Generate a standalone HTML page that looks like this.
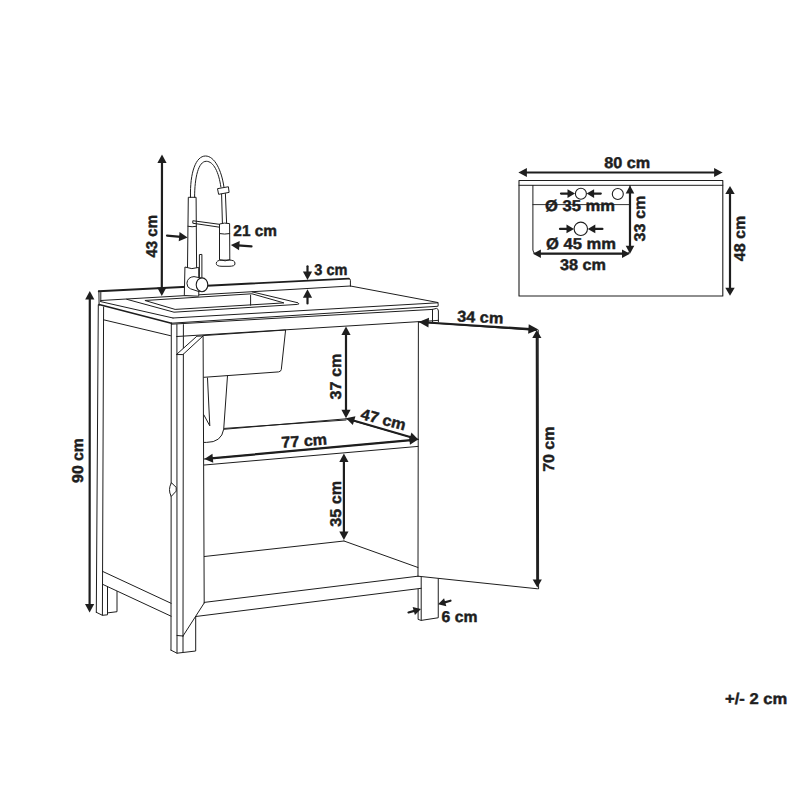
<!DOCTYPE html>
<html><head><meta charset="utf-8"><style>
html,body{margin:0;padding:0;background:#fff;}
svg{display:block;}
text{font-family:"Liberation Sans",sans-serif;font-weight:bold;fill:#1e1e1e;stroke:#1e1e1e;stroke-width:0.45px;text-rendering:geometricPrecision;}
</style></head><body>
<svg width="800" height="800" viewBox="0 0 800 800">
<rect width="800" height="800" fill="#fff"/>
<g stroke="#1e1e1e" fill="none" stroke-linecap="round" stroke-linejoin="round">
<line x1="98.75" y1="291.2" x2="348.8" y2="278.6" stroke-width="1.9"/>
<line x1="98.9" y1="291.0" x2="99.1" y2="305.5" stroke-width="1.0"/>
<line x1="100.8" y1="292.5" x2="100.8" y2="301.5" stroke-width="1.0"/>
<path d="M348.6,278.6 Q350.4,278.5 350.4,280.3 L350.4,286" stroke-width="1.0" fill="none"/>
<line x1="100.8" y1="300.5" x2="350.4" y2="286.0" stroke-width="1.0"/>
<line x1="350.4" y1="286.0" x2="437.8" y2="302.5" stroke-width="1.0"/>
<path d="M437.8,302.5 Q438.6,304 438.1,306" stroke-width="1.0" fill="none"/>
<line x1="100.6" y1="301.6" x2="173.0" y2="318.0" stroke-width="1.0"/>
<line x1="173.0" y1="318.0" x2="437.8" y2="302.8" stroke-width="1.0"/>
<line x1="99.0" y1="304.5" x2="171.4" y2="323.2" stroke-width="1.7"/>
<line x1="171.4" y1="323.2" x2="437.5" y2="306.3" stroke-width="1.0"/>
<path d="M126.75,299.3 L174,312.2 L297.5,304.4 Q300.2,304 298,302.8 L252.2,291.9" stroke-width="1.0" fill="none"/>
<polygon points="145.3,300.6 175.1,309.4 283.9,302.9 252.3,293.9" stroke-width="1.0" fill="none"/>
<line x1="250.6" y1="295.2" x2="250.6" y2="305.2" stroke-width="1.0"/>
<line x1="103.6" y1="319.8" x2="170.5" y2="335.7" stroke-width="1.0"/>
<line x1="171.4" y1="324.2" x2="432.5" y2="309.4" stroke-width="1.0"/>
<path d="M432.5,309.4 L436.5,308.4 Q438.4,308.8 438.4,311 L438.4,321.9" stroke-width="1.0" fill="none"/>
<line x1="432.5" y1="309.4" x2="432.5" y2="321.9" stroke-width="1.0"/>
<line x1="176.9" y1="336.5" x2="432.5" y2="320.8" stroke-width="1.0"/>
<line x1="432.5" y1="320.8" x2="438.4" y2="320.3" stroke-width="1.0"/>
<line x1="98.3" y1="305" x2="96.3" y2="612.3" stroke-width="1.0"/>
<line x1="103.6" y1="307" x2="102.4" y2="615.2" stroke-width="1.0"/>
<line x1="102.4" y1="571.3" x2="171.1" y2="603.3" stroke-width="1.0"/>
<line x1="102.4" y1="584.2" x2="171.1" y2="616.2" stroke-width="1.0"/>
<polyline points="96.3,612.3 102.4,615.3 107.5,614.8 107.5,612.9 117.0,611.7 117.0,591.5" stroke-width="1.0" fill="none"/>
<line x1="107.5" y1="586.8" x2="107.5" y2="612.9" stroke-width="1.0"/>
<line x1="171.3" y1="323.2" x2="171.0" y2="650.2" stroke-width="1.0"/>
<line x1="176.9" y1="336.5" x2="177.0" y2="653.2" stroke-width="1.0"/>
<line x1="183.4" y1="324.6" x2="183.0" y2="636.0" stroke-width="1.0"/>
<line x1="176.9" y1="324.5" x2="176.9" y2="336.5" stroke-width="1.0"/>
<path d="M176.7,354.3 L196.9,336.2 L203.0,336.0 L183.2,354.3 Z" stroke-width="1.0" fill="#fff"/>
<line x1="203.1" y1="336.5" x2="204.2" y2="603.0" stroke-width="1.0"/>
<line x1="204.2" y1="603.0" x2="183.0" y2="636.0" stroke-width="1.0"/>
<path d="M171.25,483.1 Q167.6,489.7 171.25,496.4 L176.2,491.1 L176.2,487.75 Z" stroke-width="1.0" fill="#fff"/>
<polyline points="171.0,650.2 177.0,653.2 195.7,651.0 195.7,616.5" stroke-width="1.0" fill="none"/>
<line x1="177.0" y1="635.5" x2="183.0" y2="636.0" stroke-width="1.0"/>
<line x1="183.0" y1="636.0" x2="183.0" y2="651.7" stroke-width="1.0"/>
<path d="M203.1,335.6 L285.6,330 L281.3,369.5 Q280.9,371.6 278.6,371.9 L203.8,377.3" stroke-width="1.0" fill="none"/>
<path d="M207.5,378 L209.8,425.8 L203.8,414.8" stroke-width="1.0" fill="none"/>
<path d="M227.5,375.9 L223.7,429.3 Q221.5,442.4 206.5,442.4 L204.4,442.4" stroke-width="1.0" fill="none"/>
<line x1="224.5" y1="428.4" x2="346.0" y2="420.0" stroke-width="1.0"/>
<line x1="223.7" y1="429.3" x2="346" y2="418.8" stroke-width="1.0"/>
<line x1="346.0" y1="418.8" x2="418.3" y2="439.4" stroke-width="1.0"/>
<line x1="204.4" y1="465.0" x2="418.0" y2="446.4" stroke-width="1.0"/>
<line x1="204.4" y1="459.0" x2="418.0" y2="439.5" stroke-width="1.0"/>
<line x1="204.4" y1="556.5" x2="344.0" y2="541.0" stroke-width="1.0"/>
<line x1="344.0" y1="541.0" x2="418.0" y2="567.5" stroke-width="1.0"/>
<line x1="204.2" y1="602.4" x2="418.0" y2="576.2" stroke-width="1.0"/>
<line x1="195.7" y1="616.5" x2="421.2" y2="588.3" stroke-width="1.0"/>
<line x1="418.4" y1="322.0" x2="418.0" y2="576.2" stroke-width="1.0"/>
<line x1="418.4" y1="322.0" x2="536.3" y2="330.5" stroke-width="1.0"/>
<line x1="538.2" y1="330.2" x2="538.6" y2="588.8" stroke-width="1.0"/>
<line x1="418.0" y1="576.2" x2="537.5" y2="588.8" stroke-width="1.0"/>
<polyline points="421.2,577.1 421.2,620.4 438.25,617.75 438.25,578.8" stroke-width="1.0" fill="none"/>
<polyline points="418.1,589.3 418.1,619.4 421.2,620.4" stroke-width="1.0" fill="none"/>
<path d="M190.5,197.3 C189.8,172 196,156 205.5,156 C214.5,156 221.5,170 223.9,186.8" stroke-width="1.0" fill="none"/>
<path d="M194.6,197.3 C194.6,177 198.5,161.3 206.3,161.3 C213.5,161.3 218.8,172 220.9,187.1" stroke-width="1.0" fill="none"/>
<polygon points="217.9,188.6 228.4,186.75 229.1,192.4 219.0,194.25" stroke-width="1.0" fill="none"/>
<line x1="221.6" y1="194.2" x2="222.4" y2="223.0" stroke-width="1.0"/>
<line x1="225.4" y1="193.6" x2="226.6" y2="223.0" stroke-width="1.0"/>
<polyline points="187.5,267.5 188.3,197.3 196.1,197.3 196.6,267.5" stroke-width="1.0" fill="none"/>
<path d="M188,226.3 Q192,227.3 196.4,226.3" stroke-width="1.0" fill="none"/>
<polygon points="193.2,220.8 219.5,224.3 219.5,227.2 193.2,223.3" stroke-width="1.0" fill="none"/>
<path d="M219.5,259.5 L219.5,224 Q224.5,222.4 229.6,223.6 L229.8,259.5" stroke-width="1.0" fill="none"/>
<path d="M219.5,233.6 Q224.6,234.6 229.7,233.6" stroke-width="1.0" fill="none"/>
<path d="M216.3,263 Q216.3,260.2 222,260.1 L229.5,260.1 Q234.9,260.2 234.9,263 L234.9,264 Q234.9,266.3 229,266.3 L222,266.3 Q216.3,266.3 216.3,264 Z" stroke-width="1.0" fill="#fff"/>
<path d="M219.7,259.8 Q225.6,262 229.8,259.8" stroke-width="1.0" fill="none"/>
<path d="M185.3,267.2 Q191.8,270 198.75,267.4 L198.75,296.2 L184.7,295.6 Z" stroke-width="1.0" fill="#fff"/>
<polyline points="199.4,277.5 199.4,254.6 201.9,254.4 201.9,277.5" stroke-width="1.0" fill="none"/>
<path d="M201,278 L194,276.6 Q187.6,277 186.9,283.2 Q186.9,287.6 190.5,288.8 L199,291.6 Z" stroke-width="1.0" fill="#fff"/>
<ellipse cx="202.0" cy="284.8" rx="5.8" ry="6.9" fill="#fff" stroke-width="1.1"/>
<line x1="161.99" y1="161.20" x2="161.81" y2="289.20" stroke-width="2.2"/>
<polygon points="161.80,296.00 157.21,287.49 166.41,287.51" fill="#1e1e1e" stroke="none"/>
<polygon points="162.00,154.40 166.59,162.91 157.39,162.89" fill="#1e1e1e" stroke="none"/>
<line x1="167.00" y1="235.60" x2="180.83" y2="236.81" stroke-width="2.2"/>
<polygon points="187.60,237.40 178.73,241.24 179.53,232.08" fill="#1e1e1e" stroke="none"/>
<line x1="251.50" y1="246.40" x2="237.68" y2="245.46" stroke-width="2.2"/>
<polygon points="230.90,245.00 239.69,240.99 239.07,250.17" fill="#1e1e1e" stroke="none"/>
<line x1="307.50" y1="266.30" x2="307.50" y2="273.20" stroke-width="2.2"/>
<polygon points="307.50,280.00 302.90,271.50 312.10,271.50" fill="#1e1e1e" stroke="none"/>
<line x1="307.50" y1="303.50" x2="307.50" y2="296.10" stroke-width="2.2"/>
<polygon points="307.50,289.30 312.10,297.80 302.90,297.80" fill="#1e1e1e" stroke="none"/>
<line x1="89.80" y1="297.80" x2="89.60" y2="605.70" stroke-width="2.2"/>
<polygon points="89.60,612.50 85.01,604.00 94.21,604.00" fill="#1e1e1e" stroke="none"/>
<polygon points="89.80,291.00 94.39,299.50 85.19,299.50" fill="#1e1e1e" stroke="none"/>
<line x1="426.73" y1="322.51" x2="530.42" y2="329.09" stroke-width="2.2"/>
<polygon points="538.40,329.60 528.12,333.76 528.72,324.18" fill="#1e1e1e" stroke="none"/>
<polygon points="418.75,322.00 429.03,317.84 428.43,327.42" fill="#1e1e1e" stroke="none"/>
<line x1="536.81" y1="336.40" x2="537.29" y2="581.10" stroke-width="2.2"/>
<polygon points="537.30,587.50 532.68,579.51 541.88,579.49" fill="#1e1e1e" stroke="none"/>
<polygon points="536.80,330.00 541.42,337.99 532.22,338.01" fill="#1e1e1e" stroke="none"/>
<line x1="346.00" y1="333.30" x2="346.00" y2="411.50" stroke-width="2.2"/>
<polygon points="346.00,418.30 341.40,409.80 350.60,409.80" fill="#1e1e1e" stroke="none"/>
<polygon points="346.00,326.50 350.60,335.00 341.40,335.00" fill="#1e1e1e" stroke="none"/>
<line x1="352.53" y1="420.21" x2="411.77" y2="437.49" stroke-width="2.2"/>
<polygon points="418.30,439.40 408.85,441.43 411.43,432.60" fill="#1e1e1e" stroke="none"/>
<polygon points="346.00,418.30 355.45,416.27 352.87,425.10" fill="#1e1e1e" stroke="none"/>
<line x1="211.17" y1="458.38" x2="411.23" y2="440.12" stroke-width="2.2"/>
<polygon points="418.00,439.50 409.95,444.85 409.12,435.69" fill="#1e1e1e" stroke="none"/>
<polygon points="204.40,459.00 212.45,453.65 213.28,462.81" fill="#1e1e1e" stroke="none"/>
<line x1="343.90" y1="460.40" x2="343.90" y2="533.20" stroke-width="2.2"/>
<polygon points="343.90,540.00 339.30,531.50 348.50,531.50" fill="#1e1e1e" stroke="none"/>
<polygon points="343.90,453.60 348.50,462.10 339.30,462.10" fill="#1e1e1e" stroke="none"/>
<line x1="408.50" y1="612.50" x2="415.22" y2="610.62" stroke-width="2.2"/>
<polygon points="421.00,609.00 414.91,615.07 412.65,606.98" fill="#1e1e1e" stroke="none"/>
<line x1="450.50" y1="600.70" x2="443.78" y2="602.58" stroke-width="2.2"/>
<polygon points="438.00,604.20 444.09,598.13 446.35,606.22" fill="#1e1e1e" stroke="none"/>
<rect x="519" y="180.5" width="203.8" height="115.5" fill="none" stroke-width="1.1"/>
<line x1="519" y1="185.3" x2="722.8" y2="185.3" stroke-width="1.0"/>
<path d="M532.9,185.4 L532.9,250 Q532.9,253.7 536.5,253.7 L626,253.7 Q630,253.7 630,249.7 L630,185.4" stroke-width="1.0" fill="none"/>
<line x1="532.9" y1="204.6" x2="630" y2="204.6" stroke-width="0.9"/>
<circle cx="580.9" cy="193.7" r="5.5" fill="#fff" stroke-width="1.1"/>
<circle cx="617.8" cy="194.0" r="5.5" fill="#fff" stroke-width="1.1"/>
<circle cx="580.8" cy="228.8" r="6.7" fill="#fff" stroke-width="1.1"/>
<line x1="525.20" y1="172.50" x2="715.80" y2="172.50" stroke-width="2.2"/>
<polygon points="722.60,172.50 714.10,176.90 714.10,168.10" fill="#1e1e1e" stroke="none"/>
<polygon points="518.40,172.50 526.90,168.10 526.90,176.90" fill="#1e1e1e" stroke="none"/>
<line x1="730.00" y1="192.40" x2="730.00" y2="289.40" stroke-width="2.2"/>
<polygon points="730.00,295.80 725.30,287.80 734.70,287.80" fill="#1e1e1e" stroke="none"/>
<polygon points="730.00,186.00 734.70,194.00 725.30,194.00" fill="#1e1e1e" stroke="none"/>
<line x1="630.00" y1="192.00" x2="630.00" y2="247.30" stroke-width="2.2"/>
<polygon points="630.00,253.70 625.70,245.70 634.30,245.70" fill="#1e1e1e" stroke="none"/>
<polygon points="630.00,185.60 634.30,193.60 625.70,193.60" fill="#1e1e1e" stroke="none"/>
<line x1="539.30" y1="253.70" x2="623.60" y2="253.70" stroke-width="2.2"/>
<polygon points="630.00,253.70 622.00,258.00 622.00,249.40" fill="#1e1e1e" stroke="none"/>
<polygon points="532.90,253.70 540.90,249.40 540.90,258.00" fill="#1e1e1e" stroke="none"/>
<line x1="561.00" y1="193.60" x2="569.00" y2="193.60" stroke-width="2.2"/>
<polygon points="575.00,193.60 567.50,197.90 567.50,189.30" fill="#1e1e1e" stroke="none"/>
<line x1="600.80" y1="193.60" x2="592.60" y2="193.60" stroke-width="2.2"/>
<polygon points="586.60,193.60 594.10,189.30 594.10,197.90" fill="#1e1e1e" stroke="none"/>
<line x1="560.00" y1="228.90" x2="568.00" y2="228.90" stroke-width="2.2"/>
<polygon points="574.00,228.90 566.50,233.20 566.50,224.60" fill="#1e1e1e" stroke="none"/>
<line x1="602.40" y1="228.90" x2="593.80" y2="228.90" stroke-width="2.2"/>
<polygon points="587.80,228.90 595.30,224.60 595.30,233.20" fill="#1e1e1e" stroke="none"/>
</g>
<text transform="translate(156.50 257.50) rotate(-90)" x="0" y="0" font-size="15.6" textLength="42.50" lengthAdjust="spacingAndGlyphs">43 cm</text>
<text x="233.35" y="236.00" font-size="15.6" textLength="43.65" lengthAdjust="spacingAndGlyphs">21 cm</text>
<text x="314.25" y="274.50" font-size="15.6" textLength="33.15" lengthAdjust="spacingAndGlyphs">3 cm</text>
<text transform="translate(83.00 482.90) rotate(-90)" x="0" y="0" font-size="15.6" textLength="44.80" lengthAdjust="spacingAndGlyphs">90 cm</text>
<text x="457.00" y="322.60" font-size="15.6" textLength="46.10" lengthAdjust="spacingAndGlyphs" transform="rotate(2.6 479.8 322.6)">34 cm</text>
<text transform="translate(554.10 471.80) rotate(-90)" x="0" y="0" font-size="15.6" textLength="45.20" lengthAdjust="spacingAndGlyphs">70 cm</text>
<text transform="translate(341.10 399.50) rotate(-90)" x="0" y="0" font-size="15.6" textLength="45.75" lengthAdjust="spacingAndGlyphs">37 cm</text>
<text x="359.00" y="424.80" font-size="15.6" textLength="46.00" lengthAdjust="spacingAndGlyphs" transform="rotate(15.0 382.75 424.8)">47 cm</text>
<text x="281.80" y="446.20" font-size="15.6" textLength="45.60" lengthAdjust="spacingAndGlyphs" transform="rotate(-4.1 304.35 446.2)">77 cm</text>
<text transform="translate(341.10 526.80) rotate(-90)" x="0" y="0" font-size="15.6" textLength="45.80" lengthAdjust="spacingAndGlyphs">35 cm</text>
<text x="441.50" y="622.40" font-size="15.6" textLength="35.90" lengthAdjust="spacingAndGlyphs">6 cm</text>
<text x="604.25" y="168.00" font-size="15.6" textLength="46.00" lengthAdjust="spacingAndGlyphs">80 cm</text>
<text transform="translate(744.90 261.25) rotate(-90)" x="0" y="0" font-size="15.6" textLength="45.50" lengthAdjust="spacingAndGlyphs">48 cm</text>
<text transform="translate(645.25 241.50) rotate(-90)" x="0" y="0" font-size="15.6" textLength="45.75" lengthAdjust="spacingAndGlyphs">33 cm</text>
<text x="560.00" y="269.50" font-size="15.6" textLength="46.00" lengthAdjust="spacingAndGlyphs">38 cm</text>
<text x="545.00" y="211.00" font-size="15.6" textLength="70.00" lengthAdjust="spacingAndGlyphs">Ø 35 mm</text>
<text x="546.00" y="248.50" font-size="15.6" textLength="70.00" lengthAdjust="spacingAndGlyphs">Ø 45 mm</text>
<text x="725.10" y="703.75" font-size="15.6" textLength="62.15" lengthAdjust="spacingAndGlyphs">+/- 2 cm</text>
</svg>
</body></html>
